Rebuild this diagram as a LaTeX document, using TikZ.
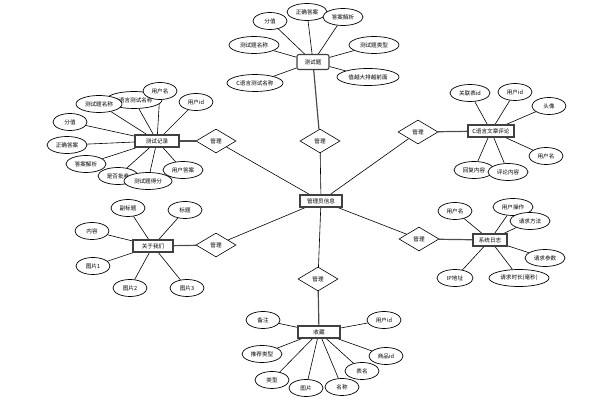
\documentclass[tikz,border=0pt]{standalone}
\usepackage{fontspec}
\newfontfamily\cjk{Noto Sans CJK SC}
\usetikzlibrary{shapes.geometric,backgrounds}
\begin{document}
\begin{tikzpicture}[x=1pt,y=-1pt, font=\cjk\fontsize{5.6}{6}\selectfont,
 attr/.style={ellipse, draw, fill=white, line width=0.7pt, minimum width=#1, minimum height=17pt, inner sep=0pt},
 attr/.default=34pt,
 ent/.style={draw, line width=1.1pt, draw=black!75, fill=white, minimum height=12pt, inner sep=1pt, minimum width=#1},
 ent/.default=42pt,
 rel/.style={diamond, draw, fill=white, line width=0.6pt, aspect=1.7, minimum width=40pt, minimum height=24pt, inner sep=0pt},
 lnk/.style={line width=0.6pt},
 elnk/.style={line width=1.2pt, draw=black!70}]
\useasboundingbox (0,0) rectangle (614,406);
% center
\node[ent] (adm) at (321,201) {管理员信息};
\node[rel] (dT) at (320,141) {管理};
\node[rel] (dLT) at (216,141) {管理};
\node[rel] (dRT) at (418,132) {管理};
\node[rel] (dLB) at (216,245) {管理};
\node[rel] (dRB) at (419,239) {管理};
\node[rel] (dB) at (318,279) {管理};
% top entity
\node[ent=32pt, rounded corners=2pt, minimum height=15pt] (tq) at (313,62) {测试题};
\node[attr] (tq1) at (270,21) {分值};
\node[attr=40pt] (tq2) at (307,12) {正确答案};
\node[attr=40pt] (tq3) at (343,17) {答案解析};
\node[attr=50pt] (tq4) at (254,45) {测试题名称};
\node[attr=56pt] (tq5) at (255,83) {C语言测试名称};
\node[attr=50pt] (tq6) at (374,45) {测试题类型};
\node[attr=62pt] (tq7) at (368,77) {值越大排越前面};
% test record
\node[attr=56pt] (tr2) at (134,100) {C语言测试名称};
\node[attr=46pt] (tr1) at (99,104) {测试题名称};
\node[attr] (tr3) at (160,91) {用户名};
\node[attr] (tr4) at (196,102) {用户id};
\node[ent=44pt] (tr) at (157,141) {测试记录};
\node[attr] (tr5) at (70,122) {分值};
\node[attr=40pt] (tr6) at (67,145) {正确答案};
\node[attr=40pt] (tr7) at (86,164) {答案解析};
\node[attr=40pt] (tr8) at (118,176) {是否批卷};
\node[attr=40pt] (tr10) at (183,170) {用户答案};
\node[attr=48pt] (tr9) at (148,181) {测试题得分};
% comment
\node[ent=46pt] (cm) at (491,131) {C语言文章评论};
\node[attr=40pt] (cm1) at (470,93) {关联表id};
\node[attr] (cm2) at (515,92) {用户id};
\node[attr] (cm3) at (549,106) {头像};
\node[attr] (cm4) at (546,156) {用户名};
\node[attr=40pt] (cm5) at (474,170) {回复内容};
\node[attr=40pt] (cm6) at (508,172) {评论内容};
% log
\node[ent=34pt] (lg) at (490,240) {系统日志};
\node[attr] (lg1) at (455,211) {用户名};
\node[attr=40pt] (lg2) at (513,207) {用户操作};
\node[attr=40pt] (lg3) at (530,221) {请求方法};
\node[attr=40pt] (lg4) at (545,258) {请求参数};
\node[attr=60pt] (lg5) at (519,278) {请求时长(毫秒)};
\node[attr=36pt] (lg6) at (455,278) {IP地址};
% about
\node[ent=40pt] (ab) at (153,246) {关于我们};
\node[attr] (ab1) at (128,208) {副标题};
\node[attr] (ab2) at (185,210) {标题};
\node[attr] (ab3) at (92,231) {内容};
\node[attr] (ab4) at (93,266) {图片1};
\node[attr] (ab5) at (130,288) {图片2};
\node[attr] (ab6) at (187,288) {图片3};
% store
\node[ent=42pt] (st) at (319,332) {收藏};
\node[attr] (st1) at (263,320) {备注};
\node[attr] (st2) at (384,320) {用户id};
\node[attr=40pt] (st3) at (262,354) {推荐类型};
\node[attr] (st4) at (386,356) {商品id};
\node[attr] (st8) at (362,371) {表名};
\node[attr] (st5) at (272,380) {类型};
\node[attr] (st7) at (342,387) {名称};
\node[attr] (st6) at (306,388) {图片};
\begin{scope}[on background layer]
\foreach \d in {dT,dLT,dRT,dLB,dRB,dB} \draw[lnk] (adm) -- (\d);
\draw[elnk] (dT) -- (tq);
\draw[elnk] (dLT) -- (tr);
\draw[elnk] (dRT) -- (cm);
\draw[elnk] (dLB) -- (ab);
\draw[elnk] (dRB) -- (lg);
\draw[elnk] (dB) -- (st);
\foreach \a in {1,...,7} \draw[lnk] (tq) -- (tq\a);
\foreach \a in {1,...,10} \draw[lnk] (tr) -- (tr\a);
\foreach \a in {1,...,6} \draw[lnk] (cm) -- (cm\a);
\foreach \a in {1,...,6} \draw[lnk] (lg) -- (lg\a);
\foreach \a in {1,...,6} \draw[lnk] (ab) -- (ab\a);
\foreach \a in {1,...,8} \draw[lnk] (st) -- (st\a);
\end{scope}
\end{tikzpicture}
\end{document}
